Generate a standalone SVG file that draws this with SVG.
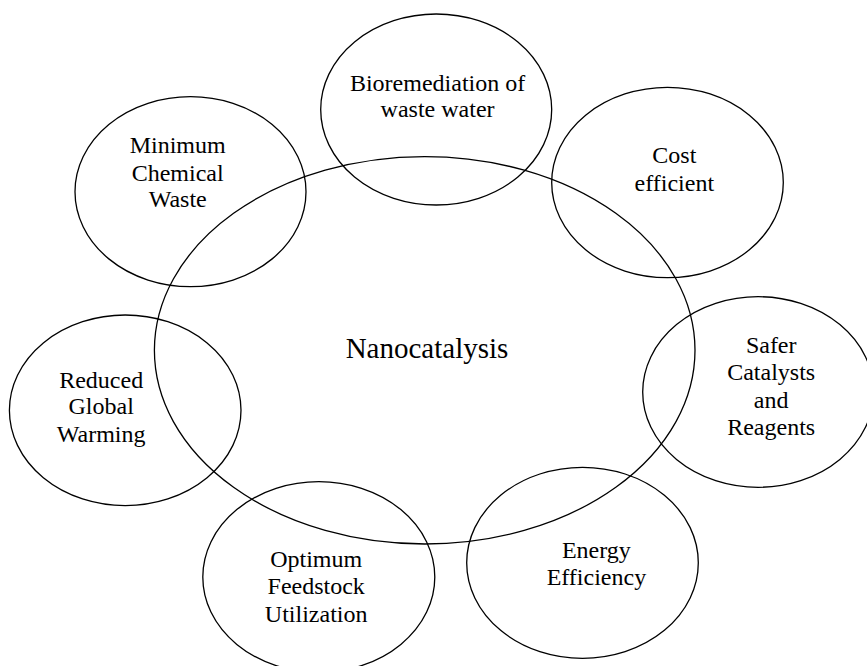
<svg xmlns="http://www.w3.org/2000/svg" width="867" height="666" viewBox="0 0 867 666">
<style>
.e{fill:none;stroke:#000;stroke-width:1.3}
.t{font-family:"Liberation Serif","Times New Roman",serif;font-size:24px;fill:#000;text-anchor:middle}
.big{font-size:29px}
</style>
<rect width="867" height="666" fill="#fff"/>
<g id="nanocatalysis"><ellipse class="e" cx="424.7" cy="350.3" rx="270.3" ry="193.7"/><text class="t big" x="427" y="358">Nanocatalysis</text></g>
<g id="bioremediation"><ellipse class="e" cx="436.2" cy="109.5" rx="115.5" ry="95.5"/><text class="t" x="437.6" y="90.7">Bioremediation of</text><text class="t" x="437.6" y="117.3">waste water</text></g>
<g id="minimum"><ellipse class="e" cx="190.5" cy="191.7" rx="115.5" ry="95"/><text class="t" x="177.7" y="153.3">Minimum</text><text class="t" x="177.7" y="181">Chemical</text><text class="t" x="177.7" y="207.3">Waste</text></g>
<g id="cost"><ellipse class="e" cx="667.5" cy="182.5" rx="115.8" ry="95.2"/><text class="t" x="674.3" y="162.7">Cost</text><text class="t" x="674.3" y="190.7">efficient</text></g>
<g id="safer"><ellipse class="e" cx="758.2" cy="392" rx="115.5" ry="95.3"/><text class="t" x="771.2" y="352.7">Safer</text><text class="t" x="771.2" y="380">Catalysts</text><text class="t" x="771.2" y="407.7">and</text><text class="t" x="771.2" y="435">Reagents</text></g>
<g id="energy"><ellipse class="e" cx="582.5" cy="562.8" rx="115.8" ry="95.5"/><text class="t" x="596.4" y="557.7">Energy</text><text class="t" x="596.4" y="585">Efficiency</text></g>
<g id="optimum"><ellipse class="e" cx="318.8" cy="577" rx="116" ry="95.3"/><text class="t" x="316.2" y="566.7">Optimum</text><text class="t" x="316.2" y="594">Feedstock</text><text class="t" x="316.2" y="621.7">Utilization</text></g>
<g id="reduced"><ellipse class="e" cx="125.2" cy="410.3" rx="115.8" ry="95.3"/><text class="t" x="101.2" y="387.7">Reduced</text><text class="t" x="101.2" y="414.3">Global</text><text class="t" x="101.2" y="441.7">Warming</text></g>
<g id="connectors"></g>
</svg>
